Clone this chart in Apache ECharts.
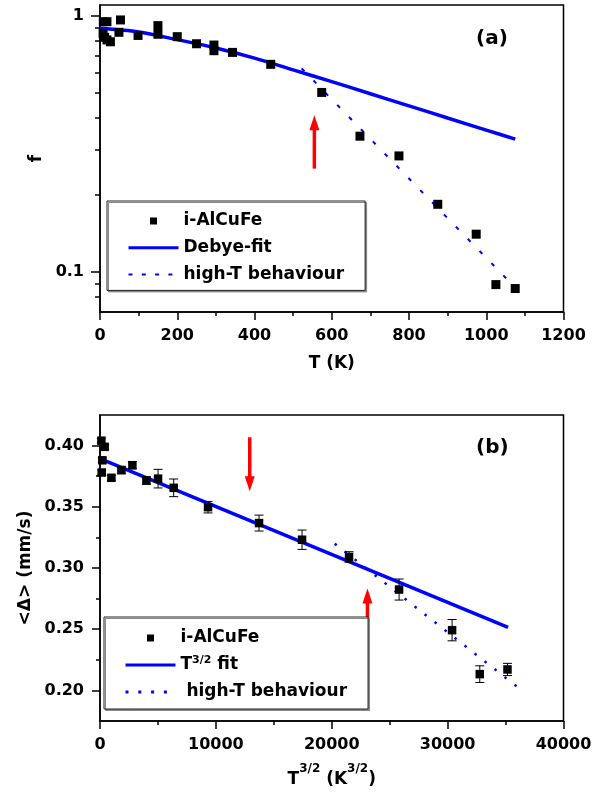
<!DOCTYPE html>
<html><head><meta charset="utf-8">
<script src="https://cdn.jsdelivr.net/npm/echarts@6/dist/echarts.min.js"></script>
<style>html,body{margin:0;padding:0;background:#fff}#c{width:602px;height:801px}</style>
</head><body><div id="c"></div>
<script>
// ---------- Panel (a): f vs T ----------
const aT = [8.6, 18, 8, 12, 27, 18, 53, 49, 98.5, 150, 150, 200, 250, 295, 295, 343, 442, 574, 673, 774, 874.5, 974, 1025, 1075];
const aF = [0.947, 0.947, 0.853, 0.823, 0.791, 0.804, 0.962, 0.861, 0.837, 0.914, 0.846, 0.828, 0.777, 0.768, 0.730, 0.719, 0.646, 0.502, 0.339, 0.284, 0.184, 0.1407, 0.0895, 0.0864];
const aFitT = [0, 100, 200, 300, 400, 500, 600, 700, 800, 900, 1000, 1075];
const aFitF = [0.893, 0.864, 0.806, 0.748, 0.683, 0.615, 0.553, 0.496, 0.445, 0.399, 0.358, 0.330];
const aHighT = [522, 1103];
const aHighF = [0.623, 0.0789];
const aYMajor = [0.1, 1];
const aYMinor = [0.08, 0.09, 0.2, 0.3, 0.4, 0.5, 0.6, 0.7, 0.8, 0.9];
const aArrowX = [555];
const aArrowFrom = [0.2534];
const aArrowTo = [0.409];

// ---------- Panel (b): <Delta> vs T^3/2 ----------
const bX = [120, 405, 200, 150, 983, 1846, 2795, 4005, 5010, 6360, 9322, 13725, 17436, 21493, 25810, 30385, 32775, 35165];
const bV = [0.404, 0.399, 0.388, 0.378, 0.3737, 0.380, 0.384, 0.3715, 0.373, 0.3655, 0.3497, 0.3367, 0.3231, 0.3090, 0.2824, 0.2492, 0.2133, 0.2171];
const bErr = [0.002, 0.002, 0.002, 0.002, 0.002, 0.003, 0.003, 0.003, 0.0076, 0.0072, 0.0047, 0.0065, 0.0079, 0.0043, 0.0086, 0.0087, 0.0068, 0.005];
const bFitX = [0, 35220];
const bFitV = [0.3894, 0.2514];
const bHighX = [20255, 36460];
const bHighV = [0.3199, 0.1995];
const bYMajor = [0.20, 0.25, 0.30, 0.35, 0.40];
const bYMinor = [0.225, 0.275, 0.325, 0.375];
const bArrowX = [12922, 23081];
const bArrowFrom = [0.4068, 0.250];
const bArrowTo = [0.3627, 0.2832];

// ---------- styling ----------
const FONT = 'DejaVu Sans';
const txt = (size) => ({fontFamily: FONT, fontWeight: 'bold', fontSize: size, color: '#000'});
const BLUE = '#0000ff';
const RED = '#ff0000';
const pairs = (xs, ys) => xs.map((x, i) => [x, ys[i]]);

const legendNames = {
  a_pts: 'i-AlCuFe', a_fit: 'Debye-fit', a_high: 'high-T behaviour',
  b_pts: 'i-AlCuFe', b_fit: '{m|T}{s|3/2}{m| fit}', b_high: ' high-T behaviour'
};
const richLegend = {
  m: {fontFamily: FONT, fontWeight: 'bold', fontSize: 17, lineHeight: 20, color: '#000'},
  s: {fontFamily: FONT, fontWeight: 'bold', fontSize: 11, lineHeight: 11, verticalAlign: 'top', color: '#000'}
};
const SQ = 'path://M0,0L10,0L10,10L0,10Z';

function axisLineStyle() { return {show: true, onZero: false, lineStyle: {color: '#000', width: 1.5}}; }

function arrowRender(params, api) {
  const a = api.coord([api.value(0), api.value(1)]);
  const b = api.coord([api.value(0), api.value(2)]);
  const dir = b[1] > a[1] ? 1 : -1;
  const headLen = 15, headW = 5;
  const base = b[1] - dir * headLen;
  return {type: 'group', children: [
    {type: 'line', shape: {x1: a[0], y1: a[1], x2: a[0], y2: base + dir * 2}, style: {stroke: RED, lineWidth: 3.5}},
    {type: 'polygon', shape: {points: [[b[0], b[1]], [b[0] - headW, base], [b[0] + headW, base]]}, style: {fill: RED}}
  ]};
}

function errRender(params, api) {
  const lo = api.coord([api.value(0), api.value(1)]);
  const hi = api.coord([api.value(0), api.value(2)]);
  const w = 4.5;
  const st = {stroke: '#000', lineWidth: 1};
  return {type: 'group', children: [
    {type: 'line', shape: {x1: lo[0], y1: lo[1], x2: hi[0], y2: hi[1]}, style: st},
    {type: 'line', shape: {x1: lo[0] - w, y1: lo[1], x2: lo[0] + w, y2: lo[1]}, style: st},
    {type: 'line', shape: {x1: hi[0] - w, y1: hi[1], x2: hi[0] + w, y2: hi[1]}, style: st}
  ]};
}

const chart = echarts.init(document.getElementById('c'), null, {renderer: 'canvas', width: 602, height: 801});

const option = {
  animation: false,
  backgroundColor: '#fff',
  title: [
    {text: '(a)', left: 476, top: 29, padding: 0, textStyle: txt(20)},
    {text: '(b)', left: 476, top: 438, padding: 0, textStyle: txt(20)}
  ],
  grid: [
    {left: 100, top: 5, width: 463.5, height: 307, show: true, borderColor: '#000', borderWidth: 1.5, backgroundColor: 'transparent', outerBoundsMode: 'none', containLabel: false},
    {left: 100, top: 415, width: 463.5, height: 306, show: true, borderColor: '#000', borderWidth: 1.5, backgroundColor: 'transparent', outerBoundsMode: 'none', containLabel: false}
  ],
  legend: [
    {
      orient: 'vertical', left: 107, top: 201, padding: [10, 21, 6, 20],
      itemWidth: 50, itemHeight: 7, itemGap: 6.7, selectedMode: false,
      borderColor: '#222', borderWidth: 1, backgroundColor: '#fff',
      shadowColor: '#888', shadowOffsetX: 1.5, shadowOffsetY: 1.5, shadowBlur: 0,
      textStyle: Object.assign(txt(17), {lineHeight: 20, rich: richLegend}),
      formatter: n => legendNames[n],
      data: [
        {name: 'a_pts', icon: SQ},
        {name: 'a_fit', itemStyle: {opacity: 0}, lineStyle: {width: 3}},
        {name: 'a_high', itemStyle: {opacity: 0}, lineStyle: {width: 2, type: [4, 9.3]}}
      ]
    },
    {
      orient: 'vertical', left: 104, top: 617, padding: [11, 21, 7, 20],
      itemWidth: 50, itemHeight: 7, itemGap: 7, selectedMode: false,
      borderColor: '#222', borderWidth: 1, backgroundColor: '#fff',
      shadowColor: '#888', shadowOffsetX: 1.5, shadowOffsetY: 1.5, shadowBlur: 0,
      textStyle: Object.assign(txt(17), {lineHeight: 20, rich: richLegend}),
      formatter: n => legendNames[n],
      data: [
        {name: 'b_pts', icon: SQ},
        {name: 'b_fit', itemStyle: {opacity: 0}, lineStyle: {width: 3}},
        {name: 'b_high', itemStyle: {opacity: 0}, lineStyle: {width: 3, type: [3, 9.8]}}
      ]
    }
  ],
  xAxis: [
    {
      gridIndex: 0, type: 'value', min: 0, max: 1200, interval: 200, position: 'bottom',
      axisLine: axisLineStyle(),
      axisTick: {show: true, inside: false, length: 8, lineStyle: {color: '#000', width: 1.5}},
      minorTick: {show: true, splitNumber: 2, length: 4, lineStyle: {color: '#000', width: 1.5}},
      splitLine: {show: false}, minorSplitLine: {show: false},
      axisLabel: Object.assign(txt(16), {margin: 16, formatter: v => String(v)}),
      name: 'T (K)', nameLocation: 'middle', nameGap: 43, nameTextStyle: txt(17)
    },
    {
      gridIndex: 1, type: 'value', min: 0, max: 40000, interval: 10000, position: 'bottom',
      axisLine: axisLineStyle(),
      axisTick: {show: true, inside: false, length: 8, lineStyle: {color: '#000', width: 1.5}},
      minorTick: {show: true, splitNumber: 2, length: 4, lineStyle: {color: '#000', width: 1.5}},
      splitLine: {show: false}, minorSplitLine: {show: false},
      axisLabel: Object.assign(txt(16), {margin: 16, formatter: v => String(v)}),
      name: '{m|T}{s|3/2}{m| (K}{s|3/2}{m|)}', nameLocation: 'middle', nameGap: 42,
      nameTextStyle: Object.assign(txt(17), {rich: {
        m: {fontFamily: FONT, fontWeight: 'bold', fontSize: 17, lineHeight: 34, color: '#000'},
        s: {fontFamily: FONT, fontWeight: 'bold', fontSize: 12, lineHeight: 12, verticalAlign: 'top', color: '#000'}
      }})
    }
  ],
  yAxis: [
    {
      gridIndex: 0, type: 'log', logBase: 10, min: 0.07, max: 1.1, position: 'left',
      axisLine: axisLineStyle(),
      axisTick: {show: true, inside: false, length: 9, customValues: aYMajor, lineStyle: {color: '#000', width: 1.5}},
      axisLabel: Object.assign(txt(16), {margin: 16, customValues: aYMajor, formatter: v => String(+(+v).toPrecision(3))}),
      splitLine: {show: false}, minorTick: {show: false}, minorSplitLine: {show: false},
      name: 'f', nameLocation: 'middle', nameGap: 42, nameTextStyle: txt(17)
    },
    {
      gridIndex: 0, type: 'log', logBase: 10, min: 0.07, max: 1.1, position: 'left', offset: 0,
      axisLine: {show: false},
      axisTick: {show: true, inside: false, length: 5, customValues: aYMinor, lineStyle: {color: '#000', width: 1.5}},
      axisLabel: {show: false}, splitLine: {show: false}, minorTick: {show: false}
    },
    {
      gridIndex: 1, type: 'value', min: 0.175, max: 0.425, position: 'left',
      axisLine: axisLineStyle(),
      axisTick: {show: true, inside: false, length: 8, customValues: bYMajor, lineStyle: {color: '#000', width: 1.5}},
      axisLabel: Object.assign(txt(16), {margin: 16, customValues: bYMajor, formatter: v => (+v).toFixed(2)}),
      splitLine: {show: false}, minorTick: {show: false}, minorSplitLine: {show: false},
      name: '<Δ> (mm/s)', nameLocation: 'middle', nameGap: 46, nameTextStyle: txt(17)
    },
    {
      gridIndex: 1, type: 'value', min: 0.175, max: 0.425, position: 'left', offset: 0,
      axisLine: {show: false},
      axisTick: {show: true, inside: false, length: 4, customValues: bYMinor, lineStyle: {color: '#000', width: 1.5}},
      axisLabel: {show: false}, splitLine: {show: false}, minorTick: {show: false}
    }
  ],
  series: [
    {name: 'a_fit', type: 'line', xAxisIndex: 0, yAxisIndex: 0, data: pairs(aFitT, aFitF), smooth: 0.3, symbol: 'none', showSymbol: false,
     color: BLUE, lineStyle: {color: BLUE, width: 3.5}, z: 2},
    {name: 'a_high', type: 'line', xAxisIndex: 0, yAxisIndex: 0, data: pairs(aHighT, aHighF), symbol: 'none', showSymbol: false,
     color: BLUE, lineStyle: {color: BLUE, width: 2, type: [4, 13]}, z: 2},
    {name: 'a_pts', type: 'scatter', xAxisIndex: 0, yAxisIndex: 0, data: pairs(aT, aF), symbol: 'rect', symbolSize: 9,
     itemStyle: {color: '#000', opacity: 1}, z: 3},
    {name: 'a_arrow', type: 'custom', xAxisIndex: 0, yAxisIndex: 0, renderItem: arrowRender,
     data: aArrowX.map((x, i) => [x, aArrowFrom[i], aArrowTo[i]]), encode: {x: 0, y: [1, 2]}, z: 3},

    {name: 'b_fit', type: 'line', xAxisIndex: 1, yAxisIndex: 2, data: pairs(bFitX, bFitV), symbol: 'none', showSymbol: false,
     color: BLUE, lineStyle: {color: BLUE, width: 3.5}, z: 2},
    {name: 'b_high', type: 'line', xAxisIndex: 1, yAxisIndex: 2, data: pairs(bHighX, bHighV), symbol: 'none', showSymbol: false,
     color: BLUE, lineStyle: {color: BLUE, width: 2.5, type: [2.5, 10.2]}, z: 2},
    {name: 'b_err', type: 'custom', xAxisIndex: 1, yAxisIndex: 2, renderItem: errRender,
     data: bX.map((x, i) => [x, bV[i] - bErr[i], bV[i] + bErr[i]]), encode: {x: 0, y: [1, 2]}, z: 3},
    {name: 'b_pts', type: 'scatter', xAxisIndex: 1, yAxisIndex: 2, data: pairs(bX, bV), symbol: 'rect', symbolSize: 8.5,
     itemStyle: {color: '#000', opacity: 1}, z: 4},
    {name: 'b_arrow', type: 'custom', xAxisIndex: 1, yAxisIndex: 2, renderItem: arrowRender,
     data: bArrowX.map((x, i) => [x, bArrowFrom[i], bArrowTo[i]]), encode: {x: 0, y: [1, 2]}, z: 3}
  ]
};
chart.setOption(option);
</script>
</body></html>
